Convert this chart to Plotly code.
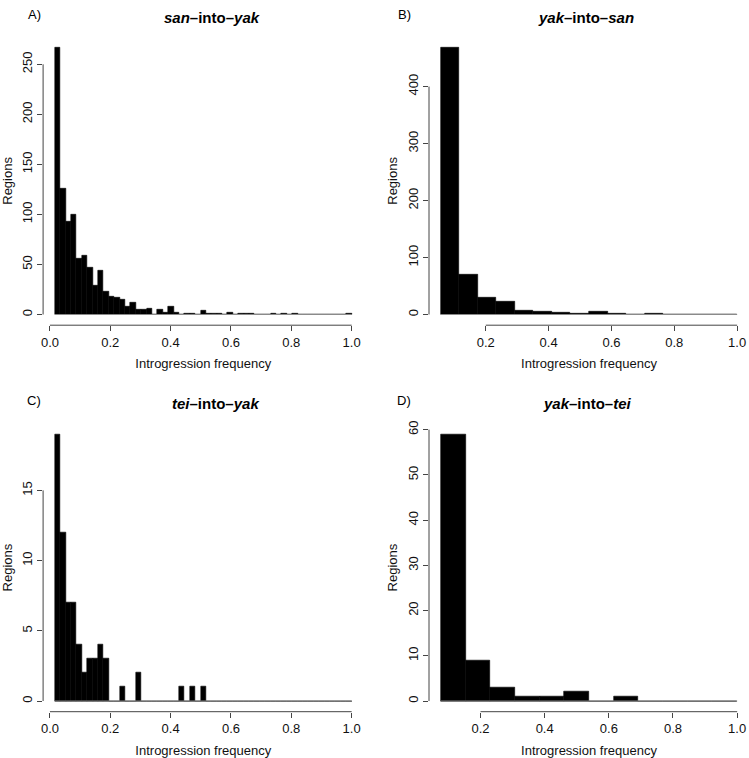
import plotly.graph_objects as go

W, H = 749, 758

# ---------------- data (histogram counts) ----------------
san_into_yak_counts = [267, 126, 93, 100, 56, 59, 47, 29, 44, 23, 18, 17, 15, 8, 12, 5, 5, 6, 0, 5,
                       2, 8, 2, 0, 1, 1, 0, 4, 1, 1, 1, 0, 2, 0, 1, 1, 1, 0, 0, 0,
                       1, 0, 1, 0, 1, 0, 0, 0, 0, 0, 0, 0, 0, 0, 1]
san_into_yak_breaks = [0.0167, 1.0]

yak_into_san_counts = [469, 70, 29, 22, 7, 5, 3, 2, 5, 1, 0, 1, 0, 0, 0, 0]
yak_into_san_breaks = [0.057, 1.0]

tei_into_yak_counts = [19, 12, 7, 7, 4, 2, 3, 3, 4, 3, 0, 0, 1, 0, 0, 2, 0, 0, 0, 0,
                       0, 0, 0, 1, 0, 1, 0, 1, 0, 0, 0, 0, 0, 0, 0, 0, 0, 0, 0, 0,
                       0, 0, 0, 0, 0, 0, 0, 0, 0, 0, 0, 0, 0, 0, 0]
tei_into_yak_breaks = [0.0167, 1.0]

yak_into_tei_counts = [59, 9, 3, 1, 1, 2, 0, 1, 0, 0, 0, 0]
yak_into_tei_breaks = [0.0764, 1.0]

x_ticks_A = [0.0, 0.2, 0.4, 0.6, 0.8, 1.0]
x_ticks_B = [0.2, 0.4, 0.6, 0.8, 1.0]
y_ticks_A = [0, 50, 100, 150, 200, 250]
y_ticks_B = [0, 100, 200, 300, 400]
y_ticks_C = [0, 5, 10, 15]
y_ticks_D = [0, 10, 20, 30, 40, 50, 60]

panel_letters = ["A)", "B)", "C)", "D)"]
panel_titles = ["<b><i>san</i>\u2013into\u2013<i>yak</i></b>",
                "<b><i>yak</i>\u2013into\u2013<i>san</i></b>",
                "<b><i>tei</i>\u2013into\u2013<i>yak</i></b>",
                "<b><i>yak</i>\u2013into\u2013<i>tei</i></b>"]
x_label = "Introgression frequency"
y_label = "Regions"

# ---------------- layout geometry (pixels) ----------------
FONT = "Liberation Sans, Arial, Helvetica, sans-serif"
AX = "#444444"
TXT = "#111111"

panels = [
    dict(counts=san_into_yak_counts, breaks=san_into_yak_breaks, xt=x_ticks_A, yt=y_ticks_A,
         px=(43.1, 363.5), py=(36.6, 325.2), title_xy=(212, 17), letter_xy=(34, 14)),
    dict(counts=yak_into_san_counts, breaks=yak_into_san_breaks, xt=x_ticks_B, yt=y_ticks_B,
         px=(429.0, 749.0), py=(36.6, 325.2), title_xy=(586, 17), letter_xy=(404, 14)),
    dict(counts=tei_into_yak_counts, breaks=tei_into_yak_breaks, xt=x_ticks_A, yt=y_ticks_C,
         px=(43.1, 363.5), py=(423.5, 711.7), title_xy=(215, 403), letter_xy=(34, 400)),
    dict(counts=yak_into_tei_counts, breaks=yak_into_tei_breaks, xt=x_ticks_B, yt=y_ticks_D,
         px=(429.0, 749.0), py=(423.5, 711.7), title_xy=(587, 403), letter_xy=(404, 400)),
]

fig = go.Figure()
shapes = []
annotations = []

for i, p in enumerate(panels):
    n = i + 1
    xa = "x" if n == 1 else f"x{n}"
    ya = "y" if n == 1 else f"y{n}"
    b0, b1 = p["breaks"]
    counts = p["counts"]
    nb = len(counts)
    w = (b1 - b0) / nb
    centers = [b0 + (k + 0.5) * w for k in range(nb)]

    # baseline (zero-height bins drawn as a line, like R's hist)
    fig.add_trace(go.Scatter(x=[b0, b1], y=[0, 0], mode="lines",
                             line=dict(color="#8a8a8a", width=1),
                             xaxis=xa, yaxis=ya, showlegend=False, hoverinfo="skip"))
    fig.add_trace(go.Bar(x=centers, y=counts, width=w,
                         marker=dict(color="black", line=dict(color="black", width=0.6)),
                         xaxis=xa, yaxis=ya, showlegend=False))

    span = b1 - b0
    ymax = max(counts)
    xdom = [p["px"][0] / W, p["px"][1] / W]
    ydom = [1 - p["py"][1] / H, 1 - p["py"][0] / H]

    xkey = "xaxis" if n == 1 else f"xaxis{n}"
    ykey = "yaxis" if n == 1 else f"yaxis{n}"
    fig.update_layout({
        xkey: dict(domain=xdom, anchor=ya, range=[b0 - 0.04 * span, b1 + 0.04 * span],
                   tickvals=p["xt"], ticktext=[f"{v:.1f}" for v in p["xt"]],
                   ticks="outside", ticklen=5, tickwidth=1, tickcolor=AX,
                   showline=False, showgrid=False, zeroline=False, automargin=False,
                   tickfont=dict(family=FONT, size=13, color=TXT),
                   title=dict(text=x_label, standoff=10, font=dict(family=FONT, size=13, color=TXT))),
        ykey: dict(domain=ydom, anchor=xa, range=[-0.04 * ymax, 1.04 * ymax],
                   tickvals=p["yt"], ticktext=[str(v) for v in p["yt"]], tickangle=-90,
                   ticks="outside", ticklen=5, tickwidth=1, tickcolor=AX,
                   showline=False, showgrid=False, zeroline=False, automargin=False,
                   tickfont=dict(family=FONT, size=13, color=TXT),
                   title=dict(text=y_label, standoff=5, font=dict(family=FONT, size=13, color=TXT))),
    })

    # R-style axis lines spanning first to last tick
    shapes.append(dict(type="line", xref=xa, yref=f"{ya} domain",
                       x0=p["xt"][0], x1=p["xt"][-1], y0=0, y1=0,
                       line=dict(color=AX, width=1)))
    shapes.append(dict(type="line", xref=f"{xa} domain", yref=ya,
                       x0=0, x1=0, y0=p["yt"][0], y1=p["yt"][-1],
                       line=dict(color=AX, width=1)))

    tx, ty = p["title_xy"]
    annotations.append(dict(text=panel_titles[i], x=tx / W, y=1 - ty / H, xref="paper", yref="paper",
                            xanchor="center", yanchor="middle", showarrow=False,
                            font=dict(family=FONT, size=15, color="black")))
    lx, ly = p["letter_xy"]
    annotations.append(dict(text=panel_letters[i], x=lx / W, y=1 - ly / H, xref="paper", yref="paper",
                            xanchor="center", yanchor="middle", showarrow=False,
                            font=dict(family=FONT, size=13, color="black")))

fig.update_layout(width=W, height=H, margin=dict(l=0, r=0, t=0, b=0),
                  paper_bgcolor="white", plot_bgcolor="white",
                  bargap=0, shapes=shapes, annotations=annotations, showlegend=False)

fig.write_html("out.html", config={"displayModeBar": False},
               post_script="document.body.style.margin='0px';document.body.style.padding='0px';")
